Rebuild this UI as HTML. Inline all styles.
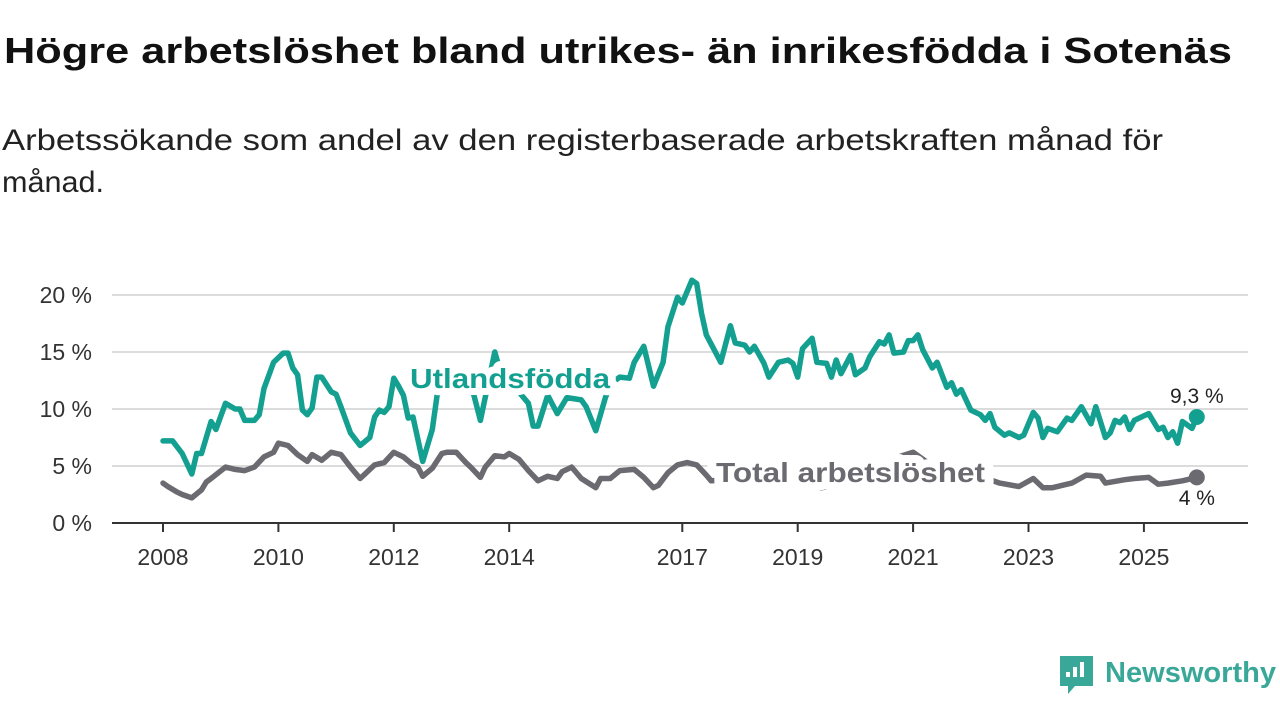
<!DOCTYPE html>
<html><head><meta charset="utf-8"><style>
body{margin:0;background:#fff;font-family:"Liberation Sans",sans-serif;}
#wrap{position:relative;width:1280px;height:720px;overflow:hidden;}
</style></head><body>
<div id="wrap">
<svg id="chart" width="1280" height="720" style="position:absolute;left:0;top:0">
<text x="4" y="63" font-size="36" font-weight="bold" fill="#111" textLength="1228" lengthAdjust="spacingAndGlyphs">Högre arbetslöshet bland utrikes- än inrikesfödda i Sotenäs</text>
<text x="2" y="150" font-size="30" fill="#222" textLength="1161" lengthAdjust="spacingAndGlyphs">Arbetssökande som andel av den registerbaserade arbetskraften månad för</text>
<text x="2" y="192" font-size="30" fill="#222" textLength="102" lengthAdjust="spacingAndGlyphs">månad.</text>
</svg>
</div>
<script>
const yTicks=[0,5,10,15,20];
const yTickLabels=["0 %","5 %","10 %","15 %","20 %"];
const xTickYears=[2008,2010,2012,2014,2017,2019,2021,2023,2025];
const utlMonths=[0,2,4,6,7,8,10,11,13,15,16,17,19,20,21,23,25,26,27,28,29,30,31,32,33,35,36,37,39,41,43,44,45,46,47,48,49,50,51,52,54,56,57,59,61,63,64,66,69,70,72,74,76,77,78,80,82,84,87,88,90,92,93,94,95,97,98,100,102,104,105,107,108,110,111,112,113,116,118,119,121,122,123,125,126,128,130,131,132,133,135,136,138,139,140,141,143,144,146,147,149,150,151,152,154,155,156,157,158,160,161,163,164,165,166,168,170,171,172,173,175,176,178,179,181,182,183,184,186,188,189,191,193,194,196,197,198,199,200,201,202,203,205,207,208,209,210,211,212,214,215];
const utlValues=[7.2,7.2,6.1,4.3,6.1,6.1,8.9,8.2,10.5,10,10,9,9,9.5,11.8,14.1,14.9,14.9,13.6,13,9.9,9.5,10.1,12.8,12.8,11.5,11.3,10.2,7.9,6.8,7.5,9.3,9.9,9.7,10.2,12.7,12,11.2,9.2,9.3,5.4,8.2,11.2,12.5,12,12.5,12.3,9,15,13.5,12.5,11.5,10.5,8.5,8.5,11.2,9.6,11,10.8,10.2,8.1,11,12,12.5,12.8,12.7,14.1,15.5,12,14.1,17.2,19.8,19.3,21.3,21,18.4,16.5,14.1,17.3,15.8,15.6,15,15.5,14,12.8,14.1,14.3,14,12.8,15.3,16.2,14.1,14,12.8,14.3,13.1,14.7,13,13.6,14.6,15.9,15.7,16.5,14.9,15,16,16,16.5,15.2,13.6,14.1,11.9,12.3,11.3,11.7,9.9,9.5,9,9.6,8.4,7.7,7.9,7.5,7.7,9.7,9.2,7.5,8.3,8,9.2,9,10.2,8.7,10.2,7.5,7.9,9,8.8,9.3,8.2,9,9.2,9.6,8.2,8.4,7.5,8,7,8.9,8.3,9.3];
const totMonths=[0,1,3,4,6,8,9,10,13,15,17,19,21,23,24,26,28,30,31,33,35,37,39,41,42,44,46,48,50,52,53,54,56,58,59,61,63,64,66,67,69,71,72,74,76,78,80,82,83,85,87,90,91,93,95,98,100,102,103,105,107,109,111,113,114,118,124,130,137,143,149,153,156,160,164,168,172,174,178,181,183,185,189,192,195,196,200,202,205,207,209,212,215];
const totValues=[3.5,3.2,2.7,2.5,2.2,2.9,3.6,3.9,4.9,4.7,4.6,4.9,5.8,6.2,7,6.8,6,5.4,6,5.5,6.2,6,4.9,3.9,4.3,5.1,5.3,6.2,5.8,5.1,4.9,4.1,4.8,6.1,6.2,6.2,5.3,4.9,4,4.9,5.9,5.8,6.1,5.6,4.6,3.7,4.1,3.9,4.5,4.9,3.9,3.1,3.9,3.9,4.6,4.7,4,3.1,3.3,4.4,5.1,5.3,5.1,4.2,3.7,3.8,3.6,3.5,3.1,3.6,4.5,5.8,6.2,5,4.2,4,3.8,3.5,3.2,3.9,3.1,3.1,3.5,4.2,4.1,3.5,3.8,3.9,4,3.4,3.5,3.7,4];
const utlLast="9,3 %", totLast="4 %";

const NS="http://www.w3.org/2000/svg";
const svg=document.getElementById('chart');
const X0=112,X1=1248;
function xm(m){return 163+m/12*57.7;}
function xy(yr){return xm((yr-2008)*12);}
function ys(v){return 523-v*11.4;}
function mk(tag,attrs,parent){const e=document.createElementNS(NS,tag);for(const k in attrs)e.setAttribute(k,attrs[k]);(parent||svg).appendChild(e);return e;}
yTicks.forEach((t,i)=>{
  if(t>0){const g=mk('line',{x1:X0,x2:X1,y1:ys(t),y2:ys(t),stroke:'#dcdcdc','stroke-width':2});
  
  }
  const l=mk('text',{x:92,y:ys(t)+8,'text-anchor':'end','font-size':23,fill:'#333'});
  l.textContent=yTickLabels[i];
  
  
});
const ax=mk('line',{x1:X0,x2:X1,y1:523,y2:523,stroke:'#333','stroke-width':2});


xTickYears.forEach(yr=>{
  const tk=mk('line',{x1:xy(yr),x2:xy(yr),y1:523,y2:532,stroke:'#333','stroke-width':2});
  
  
  const l=mk('text',{x:xy(yr),y:565,'text-anchor':'middle','font-size':23,fill:'#333'});
  l.textContent=yr;
  
  
});
function path(ms,vs,col,name){
  const d=ms.map((m,i)=>(i?'L':'M')+xm(m).toFixed(1)+','+ys(vs[i]).toFixed(1)).join('');
  const p=mk('path',{d:d,fill:'none',stroke:col,'stroke-width':5.5,'stroke-linejoin':'round','stroke-linecap':'round'});
  
  
  const lm=ms[ms.length-1],lv=vs[vs.length-1];
  const c=mk('circle',{cx:xm(lm),cy:ys(lv),r:8,fill:col});
  
  
}
const TEAL='#14a090',GRAY='#6b6a70';
path(totMonths,totValues,GRAY,'total-line');
path(utlMonths,utlValues,TEAL,'utlandsfodda-line');
function lbl(x,y,txt,col,name,size,bold,anchor,len,halo){
  const a={x:x,y:y,'font-size':size,'font-weight':bold?'bold':'normal',fill:col,stroke:'#fff','stroke-width':halo,'paint-order':'stroke','stroke-linejoin':'round','text-anchor':anchor||'start'};
  if(len){a.textLength=len;a.lengthAdjust='spacingAndGlyphs';}
  const t=mk('text',a);
  t.textContent=txt;
  
  
}
lbl(410,388,'Utlandsfödda',TEAL,'utlandsfodda-label',28,true,'start',200,14);
lbl(716,482,'Total arbetslöshet',GRAY,'total-label',28,true,'start',269,16);
lbl(xm(215),403,utlLast,'#222','utlandsfodda-last-value',21,false,'middle',0,5);
lbl(xm(215),505,totLast,'#222','total-last-value',21,false,'middle',0,5);
const g=mk('g',{});


mk('path',{d:'M1060,656 h33 v30 h-18 l-7,8 v-8 h-8 z',fill:'#3aa898'},g);
[[1066,672,5],[1073,667,10],[1080,662,15]].forEach(b=>mk('rect',{x:b[0],y:b[1],width:4,height:b[2],fill:'#fff'},g));
const lt=mk('text',{x:1105,y:682,'font-size':29,'font-weight':'bold',fill:'#3aa898',textLength:171,lengthAdjust:'spacingAndGlyphs'},g);
lt.textContent='Newsworthy';
</script>
</body></html>
